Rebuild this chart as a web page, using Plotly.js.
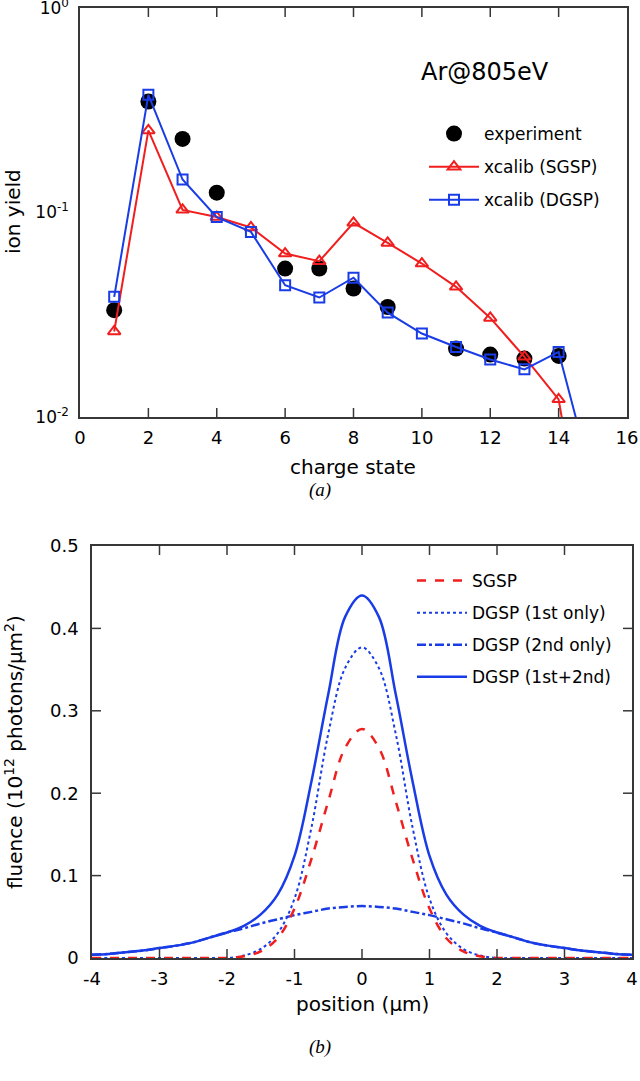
<!DOCTYPE html>
<html>
<head>
<meta charset="utf-8">
<script src="https://cdn.plot.ly/plotly-3.0.1.min.js"></script>
<style>
  html, body { margin: 0; padding: 0; background: #fff; }
  #chart { width: 640px; height: 1081px; }
</style>
</head>
<body>
<div id="chart"></div>
<script>
// (a) ion yield vs charge state
var expCharge = [1, 2, 3, 4, 6, 7, 8, 9, 11, 12, 13, 14];
var expYield = [0.0333, 0.349, 0.229, 0.125, 0.0532, 0.0532, 0.0425, 0.0345, 0.0216, 0.0202, 0.0193, 0.0199];

var calibCharge = [1, 2, 3, 4, 5, 6, 7, 8, 9, 10, 11, 12, 13, 14, 15];
var sgspYield = [0.0262, 0.252, 0.103, 0.095, 0.0845, 0.063, 0.0578, 0.089, 0.071, 0.0563, 0.0433, 0.0305, 0.0197, 0.0122, 0.0013];
var dgspYield = [0.0387, 0.376, 0.145, 0.095, 0.0804, 0.0441, 0.0384, 0.048, 0.0324, 0.0256, 0.022, 0.0191, 0.0171, 0.0208, 0.0048];

// tick values and labels as printed in the figure
var chargeTicks = [2, 4, 6, 8, 10, 12, 14];
var logLabels = { '0.01' : '10<sup>-2</sup>', '0.1' : '10<sup>-1</sup>', '1' : '10<sup>0</sup>' };
var majorLogTicks = [0.1];
var minorLogTicks = [0.02, 0.03, 0.04, 0.05, 0.06, 0.07, 0.08, 0.09, 0.2, 0.3, 0.4, 0.5, 0.6, 0.7, 0.8, 0.9];

// (b) fluence profiles
var position = [-4, -3.75, -3.5, -3.25, -3, -2.75, -2.5, -2.25, -2, -1.75, -1.5, -1.25, -1, -0.75, -0.5, -0.25, 0,
                0.25, 0.5, 0.75, 1, 1.25, 1.5, 1.75, 2, 2.25, 2.5, 2.75, 3, 3.25, 3.5, 3.75, 4];
var sgspFluence = [0, 0, 0, 0, 0, 0, 0, 0, 0, 0.002, 0.008, 0.024, 0.06, 0.12, 0.19, 0.255, 0.278,
                   0.255, 0.19, 0.12, 0.06, 0.024, 0.008, 0.002, 0, 0, 0, 0, 0, 0, 0, 0, 0];
var dgsp1stFluence = [0, 0, 0, 0, 0, 0, 0, 0, 0, 0.003, 0.011, 0.03, 0.072, 0.158, 0.272, 0.352, 0.377,
                      0.352, 0.272, 0.158, 0.072, 0.03, 0.011, 0.003, 0, 0, 0, 0, 0, 0, 0, 0, 0];
var dgsp2ndFluence = [0.004, 0.005, 0.007, 0.009, 0.012, 0.015, 0.019, 0.025, 0.031, 0.036, 0.042, 0.047, 0.052, 0.056, 0.06, 0.062, 0.063,
                      0.062, 0.06, 0.056, 0.052, 0.047, 0.042, 0.036, 0.031, 0.025, 0.019, 0.015, 0.012, 0.009, 0.007, 0.005, 0.004];
var dgspSumFluence = [0.004, 0.005, 0.007, 0.009, 0.012, 0.015, 0.019, 0.025, 0.031, 0.039, 0.053, 0.077, 0.124, 0.214, 0.32, 0.414, 0.44,
                      0.414, 0.32, 0.214, 0.124, 0.077, 0.053, 0.039, 0.031, 0.025, 0.019, 0.015, 0.012, 0.009, 0.007, 0.005, 0.004];
var positionTicks = [-3, -2, -1, 0, 1, 2, 3];
var fluenceTicks = [0.1, 0.2, 0.3, 0.4];
var linearLabels = { '−4' : '-4', '−3' : '-3', '−2' : '-2', '−1' : '-1' };

var RED = 'rgb(240, 30, 30)';
var BLUE = 'rgb(25, 60, 230)';
var AXIS = 'rgb(55, 55, 55)';

var experiment = {
	x : expCharge,
	y : expYield,
	type : 'scatter',
	mode : 'markers',
	name : 'experiment',
	legendgroup : 'a1',
	marker : {
		symbol : 'circle',
		size : 16,
		color : 'black'
	}
};

var sgsp = {
	x : calibCharge,
	y : sgspYield,
	type : 'scatter',
	mode : 'lines+markers',
	name : 'xcalib (SGSP)',
	legendgroup : 'a2',
	line : { color : RED, width : 2 },
	marker : {
		symbol : 'triangle-up-open',
		size : 11,
		color : RED,
		line : { width : 2 }
	}
};

var dgsp = {
	x : calibCharge,
	y : dgspYield,
	type : 'scatter',
	mode : 'lines+markers',
	name : 'xcalib (DGSP)',
	legendgroup : 'a3',
	line : { color : BLUE, width : 2 },
	marker : {
		symbol : 'square-open',
		size : 10,
		color : BLUE,
		line : { width : 2 }
	}
};

var sum = {
	x : position, y : dgspSumFluence,
	xaxis : 'x2', yaxis : 'y2',
	type : 'scatter', mode : 'lines',
	name : 'DGSP (1st+2nd)',
	legend : 'legend2', legendgroup : 'b4', legendrank : 4,
	line : { color : BLUE, width : 2.5, shape : 'spline' }
};
var second = {
	x : position, y : dgsp2ndFluence,
	xaxis : 'x2', yaxis : 'y2',
	type : 'scatter', mode : 'lines',
	name : 'DGSP (2nd only)',
	legend : 'legend2', legendgroup : 'b3', legendrank : 3,
	line : { color : BLUE, width : 2.5, dash : 'dashdot', shape : 'spline' }
};
var first = {
	x : position, y : dgsp1stFluence,
	xaxis : 'x2', yaxis : 'y2',
	type : 'scatter', mode : 'lines',
	name : 'DGSP (1st only)',
	legend : 'legend2', legendgroup : 'b2', legendrank : 2,
	line : { color : BLUE, width : 2, dash : 'dot', shape : 'spline' }
};
var single = {
	x : position, y : sgspFluence,
	xaxis : 'x2', yaxis : 'y2',
	type : 'scatter', mode : 'lines',
	name : 'SGSP',
	legend : 'legend2', legendgroup : 'b1', legendrank : 1,
	line : { color : RED, width : 2.5, dash : 'dash', shape : 'spline' }
};

var data = [experiment, sgsp, dgsp, sum, second, first, single];

// inside tick marks on both sides of a box, sized in pixels
function tickMarks(vals, dataAxis, otherAxis, len, isLog) {
	var out = [];
	vals.forEach(function(v) {
		var pos = isLog ? Math.log10(v) : v;
		[0, 1].forEach(function(side) {
			var s = { type : 'line', layer : 'above', line : { color : AXIS, width : 1.5 } };
			if (dataAxis.charAt(0) === 'x') {
				s.xref = dataAxis; s.x0 = pos; s.x1 = pos;
				s.yref = otherAxis + ' domain'; s.ysizemode = 'pixel'; s.yanchor = side;
				s.y0 = 0; s.y1 = side ? -len : len;
			} else {
				s.yref = dataAxis; s.y0 = pos; s.y1 = pos;
				s.xref = otherAxis + ' domain'; s.xsizemode = 'pixel'; s.xanchor = side;
				s.x0 = 0; s.x1 = side ? -len : len;
			}
			out.push(s);
		});
	});
	return out;
}

var shapes = [].concat(
	tickMarks(chargeTicks, 'x', 'y', 9, false),
	tickMarks(majorLogTicks, 'y', 'x', 9, true),
	tickMarks(minorLogTicks, 'y', 'x', 5, true),
	tickMarks(positionTicks, 'x2', 'y2', 9, false),
	tickMarks(fluenceTicks, 'y2', 'x2', 9, false)
);

function boxAxis(extra) {
	var ax = {
		showline : true,
		mirror : true,
		linecolor : AXIS,
		linewidth : 1.5,
		ticks : '',
		showgrid : false,
		zeroline : false,
		automargin : false,
		ticklabelstandoff : 4,
		ticklabeloverflow : 'allow',
		tickfont : { size : 18, color : 'black' }
	};
	for (var k in extra) ax[k] = extra[k];
	return ax;
}

// axis titles and panel captions are placed as paper annotations
function paperText(text, px, py, size, angle, family) {
	return {
		text : text,
		xref : 'paper', yref : 'paper',
		x : px / 640, y : 1 - py / 1081,
		xanchor : 'center', yanchor : 'middle',
		textangle : angle || 0,
		showarrow : false,
		font : { size : size, family : family || 'DejaVu Sans, sans-serif' }
	};
}

var layout = {
	width : 640,
	height : 1081,
	margin : { l : 0, r : 0, t : 0, b : 0 },
	paper_bgcolor : 'white',
	plot_bgcolor : 'white',
	font : { family : 'DejaVu Sans, sans-serif', color : 'black' },
	showlegend : true,
	xaxis : boxAxis({
		domain : [80 / 640, 627 / 640],
		anchor : 'y',
		range : [0, 16],
		dtick : 2
	}),
	yaxis : boxAxis({
		domain : [1 - 417 / 1081, 1 - 8 / 1081],
		anchor : 'x',
		type : 'log',
		range : [-2, 0],
		tickmode : 'linear',
		tick0 : 0,
		dtick : 1,
		tickfont : { size : 17, color : 'black' },
		labelalias : logLabels,
		ticklabelstandoff : 6
	}),
	xaxis2 : boxAxis({
		domain : [92 / 640, 632 / 640],
		anchor : 'y2',
		range : [-4, 4],
		dtick : 1,
		labelalias : linearLabels
	}),
	yaxis2 : boxAxis({
		domain : [1 - 958 / 1081, 1 - 546 / 1081],
		anchor : 'x2',
		range : [0, 0.5],
		dtick : 0.1,
		ticklabelstandoff : 8
	}),
	shapes : shapes,
	legend : {
		x : 424 / 640, y : 1 - 116 / 1081,
		xanchor : 'left', yanchor : 'top',
		bgcolor : 'rgba(0,0,0,0)',
		font : { size : 17 },
		itemwidth : 50,
		tracegroupgap : 8
	},
	legend2 : {
		x : 412 / 640, y : 1 - 563 / 1081,
		xanchor : 'left', yanchor : 'top',
		bgcolor : 'rgba(0,0,0,0)',
		font : { size : 17 },
		itemwidth : 50,
		tracegroupgap : 7
	},
	annotations : [
		paperText('Ar@805eV', 485, 72, 24),
		paperText('ion yield', 13, 212, 20, -90),
		paperText('charge state', 353, 467, 20),
		paperText('fluence (10<sup>12</sup> photons/μm<sup>2</sup>)', 14, 752, 20, -90),
		paperText('position (μm)', 362, 1004, 20),
		paperText('<i>(a)</i>', 320, 490, 19, 0, 'Liberation Serif, serif'),
		paperText('<i>(b)</i>', 320, 1047, 19, 0, 'Liberation Serif, serif')
	]
};

var config = {
	displayModeBar : false
};
var container = document.getElementById('chart');
Plotly.newPlot(container, data, layout, config);
</script>
</body>
</html>
